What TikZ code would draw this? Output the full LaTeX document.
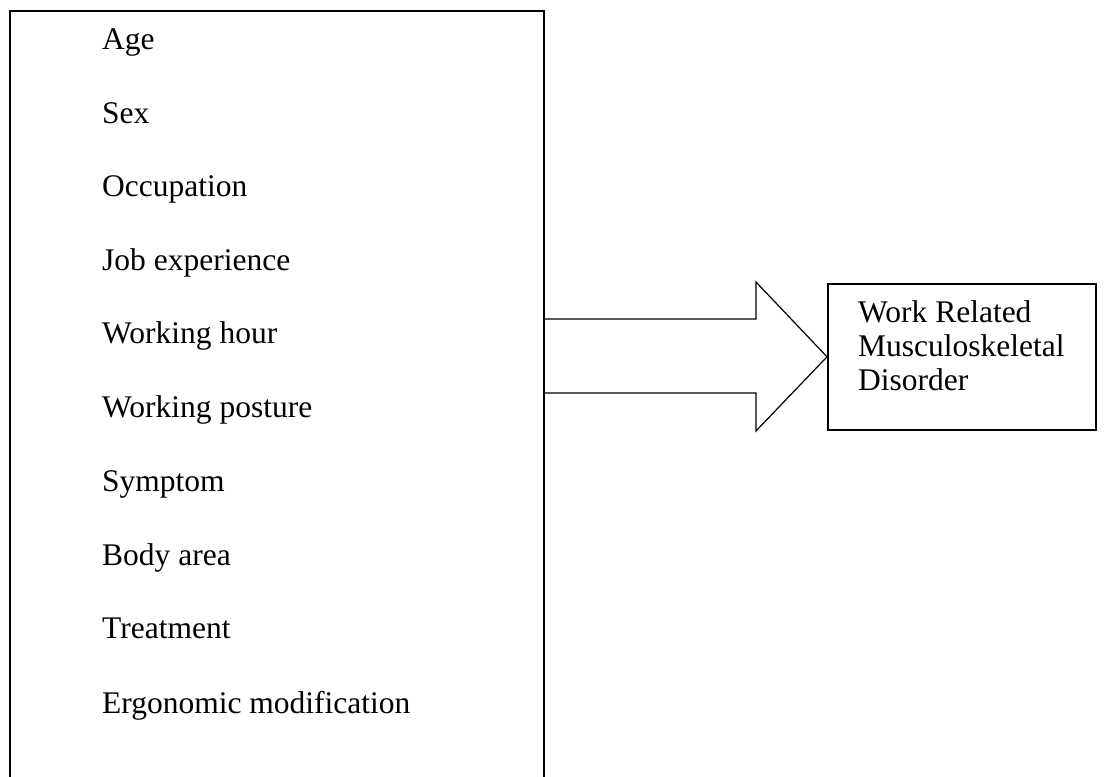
\documentclass[tikz,border=0pt]{standalone}
\usepackage{fontspec}
\setmainfont{Liberation Serif}
\usepackage{tikz}

\begin{document}
\begin{tikzpicture}[x=1pt, y=-1pt,
    frame/.style={draw, line width=1.6pt, inner sep=0pt},
    item/.style={anchor=base west, inner sep=0pt, font=\fontsize{31.5}{36}\selectfont},
    outcome/.style={anchor=base west, inner sep=0pt, align=left, font=\fontsize{31.5}{34}\selectfont}]

    \clip (0, 0) rectangle (1105, 776);

    \node [frame, minimum width=534pt, minimum height=800pt, anchor=north west] (factors) at (9, 10) {};
    \node [frame, minimum width=268pt, minimum height=146pt, anchor=north west] (wrmsd) at (827, 283) {};

    \node [item] (age) at (102, 49) {Age};
    \node [item] (sex) at (102, 123) {Sex};
    \node [item] (occ) at (102, 196) {Occupation};
    \node [item] (jobexp) at (102, 270) {Job experience};
    \node [item] (hour) at (102, 343) {Working hour};
    \node [item] (posture) at (102, 417) {Working posture};
    \node [item] (symptom) at (102, 491) {Symptom};
    \node [item] (body) at (102, 565) {Body area};
    \node [item] (treat) at (102, 638) {Treatment};
    \node [item] (ergo) at (102, 713) {Ergonomic modification};

    % base of a multi-line node is the last line
    \node [outcome] (label) at (858, 390) {Work Related\\Musculoskeletal\\Disorder};

    % block arrow from the factors to the outcome
    \draw [line width=1.2pt, line join=miter] (factors.east |- 0, 319) -- (756, 319) -- (756, 282)
        -- (wrmsd.west) -- (756, 431) -- (756, 393) -- (factors.east |- 0, 393);

\end{tikzpicture}
\end{document}
